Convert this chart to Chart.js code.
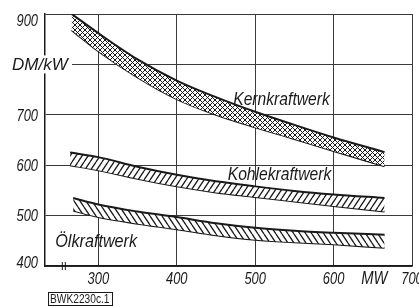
<!DOCTYPE html>
<html>
<head>
<meta charset="utf-8">
<script src="https://cdn.jsdelivr.net/npm/chart.js@4/dist/chart.umd.min.js"></script>
<style>
  body { margin: 0; background: #fff; }
  #wrap { width: 419px; height: 306px; position: relative; }
</style>
</head>
<body>
<div id="wrap"><canvas id="myChart"></canvas></div>
<script>
// Investment cost of power stations vs. unit size (DM/kW over MW)

const kernX = [266, 300, 350, 400, 450, 500, 550, 600, 665];
const kernUpper = [900, 862, 810, 768, 735, 706, 680, 655, 626];
const kernLower = [868, 826, 774, 731, 700, 675, 652, 628, 598];

const kohleX = [264, 300, 350, 400, 450, 500, 550, 600, 665];
const kohleUpper = [625, 616, 597, 581, 568, 558, 549, 542, 535];
const kohleLower = [600, 590, 573, 558, 546, 537, 528, 519, 508];

const oelX = [268, 300, 350, 400, 450, 500, 550, 600, 665];
const oelUpper = [535, 522, 508, 497, 485, 476, 470, 466, 462];
const oelLower = [510, 497, 484, 473, 461, 452, 447, 443, 436];

const xTicks = [300, 400, 500, 600, 700];
const yTicks = [400, 500, 600, 700, 900];   // 800 carries the unit label instead

const FONT = "'Liberation Sans', sans-serif";
const INK = "#1a1a1a";

function pts(xs, ys) {
    return xs.map((x, i) => ({ x: x, y: ys[i] }));
}

function hatch(kind) {
    let w = 6, h = 9;
    if (kind === "cross") { w = 5; h = 5; }
    const c = document.createElement("canvas");
    c.width = w; c.height = h;
    const g = c.getContext("2d");
    g.fillStyle = "#fff";
    g.fillRect(0, 0, w, h);
    g.strokeStyle = INK;
    g.lineWidth = kind === "cross" ? 1 : 1.3;
    function fwd() {
        g.beginPath();
        for (let k = -1; k <= 1; k++) {
            g.moveTo(k * w, h); g.lineTo(k * w + w, 0);
        }
        g.stroke();
    }
    function back() {
        g.beginPath();
        for (let k = -1; k <= 1; k++) {
            g.moveTo(k * w, 0); g.lineTo(k * w + w, h);
        }
        g.stroke();
    }
    if (kind === "fwd" || kind === "cross") fwd();
    if (kind === "back" || kind === "cross") back();
    return g.createPattern(c, "repeat");
}

function band(xs, up, low, pattern) {
    return [
        {
            data: pts(xs, up), fill: "+1", backgroundColor: pattern,
            borderColor: INK, borderWidth: 2, pointRadius: 0,
            cubicInterpolationMode: "monotone"
        },
        {
            data: pts(xs, low), fill: false,
            borderColor: INK, borderWidth: 2, pointRadius: 0,
            cubicInterpolationMode: "monotone"
        }
    ];
}

function txt(ctx, str, x, y, size, align, sx, italic) {
    ctx.save();
    ctx.translate(x, y);
    ctx.scale(sx, 1);
    ctx.font = (italic ? "italic " : "") + size + "px " + FONT;
    ctx.textAlign = align;
    ctx.textBaseline = "middle";
    ctx.fillStyle = INK;
    ctx.fillText(str, 0, 0);
    ctx.restore();
}

const extras = {
    id: "extras",
    afterDraw(chart) {
        const ctx = chart.ctx;
        const xs = chart.scales.x, ys = chart.scales.y;
        ctx.save();

        // tick labels, narrow italic lettering
        yTicks.forEach(v => {
            const py = ys.getPixelForValue(v) + (v === 900 ? 7 : v === 400 ? -3 : 1);
            txt(ctx, String(v), 38, py, 17, "right", 0.76, true);
        });
        xTicks.forEach(v => {
            txt(ctx, String(v), xs.getPixelForValue(v), ys.bottom + 13, 17, "center", 0.76, true);
        });
        txt(ctx, "MW", xs.getPixelForValue(652), ys.bottom + 13, 18, "center", 0.82, true);

        // y unit label sits over the axis at 800
        const y800 = ys.getPixelForValue(800);
        ctx.fillStyle = "#fff";
        ctx.fillRect(10, y800 - 9, 62, 18);
        txt(ctx, "DM/kW", 12, y800 + 1, 17, "left", 1, true);

        // band labels
        txt(ctx, "Kernkraftwerk", xs.getPixelForValue(472), ys.getPixelForValue(729), 18, "left", 0.87, true);
        txt(ctx, "Kohlekraftwerk", xs.getPixelForValue(465), ys.getPixelForValue(580), 18, "left", 0.87, true);
        txt(ctx, "Ölkraftwerk", xs.getPixelForValue(245), ys.getPixelForValue(448), 18, "left", 0.9, true);

        // axis break mark
        const xb = xs.getPixelForValue(256);
        ctx.strokeStyle = INK;
        ctx.lineWidth = 1;
        ctx.beginPath();
        ctx.moveTo(xb - 1.5, ys.bottom - 4); ctx.lineTo(xb - 1.5, ys.bottom + 4);
        ctx.moveTo(xb + 1.5, ys.bottom - 4); ctx.lineTo(xb + 1.5, ys.bottom + 4);
        ctx.stroke();

        // figure code
        txt(ctx, "BWK2230c.1", 50, 299.5, 12, "left", 0.85, false);
        ctx.strokeRect(48.5, 292.5, 64, 13);
        ctx.restore();
    }
};

new Chart(document.getElementById("myChart"), {
    type: "line",
    data: {
        datasets: [
            ...band(kernX, kernUpper, kernLower, hatch("cross")),
            ...band(kohleX, kohleUpper, kohleLower, hatch("fwd")),
            ...band(oelX, oelUpper, oelLower, hatch("back"))
        ]
    },
    options: {
        responsive: true,
        maintainAspectRatio: false,
        animation: false,
        layout: { padding: { top: 14, right: 7, left: 0, bottom: 0 } },
        plugins: { legend: { display: false }, tooltip: { enabled: false } },
        scales: {
            x: {
                type: "linear",
                min: 232,
                max: 700,
                afterBuildTicks: s => { s.ticks = xTicks.map(v => ({ value: v })); },
                afterFit: s => { s.height = 40; s.paddingLeft = 0; s.paddingRight = 0; },
                grid: { color: "#3a3a3a", lineWidth: 1, drawTicks: false },
                border: { color: INK, width: 1.5 },
                ticks: { display: false }
            },
            y: {
                type: "linear",
                min: 400,
                max: 900,
                afterBuildTicks: s => { s.ticks = [400, 500, 600, 700, 800, 900].map(v => ({ value: v })); },
                afterFit: s => { s.width = 45; },
                grid: { color: "#3a3a3a", lineWidth: 1, drawTicks: false },
                border: { color: INK, width: 1.5 },
                ticks: { display: false }
            }
        }
    },
    plugins: [extras]
});
</script>
</body>
</html>
